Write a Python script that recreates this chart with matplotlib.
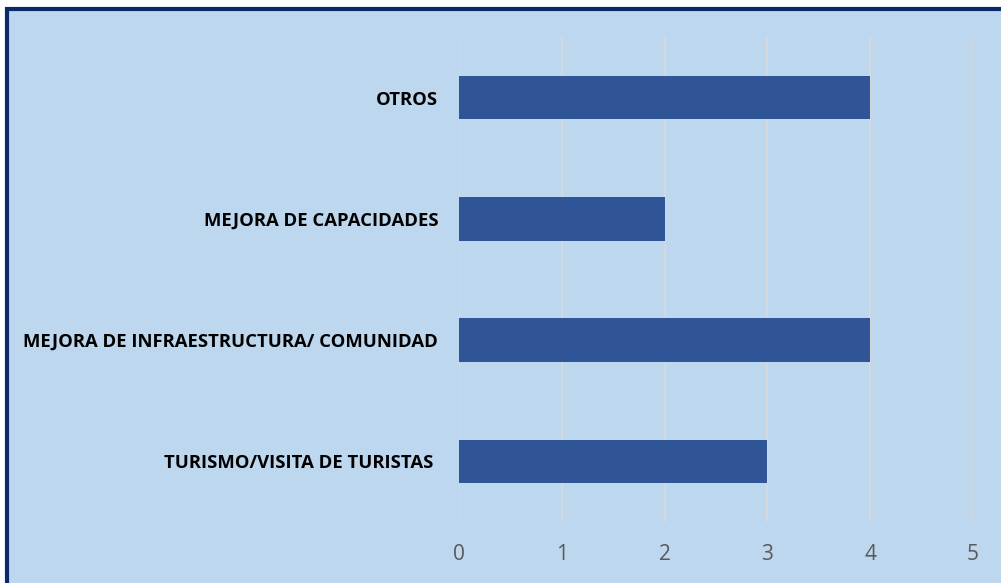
import matplotlib.pyplot as plt
from matplotlib.patches import Rectangle

categories = ['TURISMO/VISITA DE TURISTAS ', 'MEJORA DE INFRAESTRUCTURA/ COMUNIDAD',
              'MEJORA DE CAPACIDADES', 'OTROS']
values = [3, 4, 2, 4]
xticks = [0, 1, 2, 3, 4, 5]

plt.rcParams['font.family'] = ['Open Sans', 'DejaVu Sans']

fig = plt.figure(figsize=(10.01, 5.83), dpi=100, facecolor='white')

# chart background with dark border
bg = Rectangle((7 / 1001, -0.01), 1.0, 1 - 9 / 583 + 0.01, transform=fig.transFigure,
               facecolor='#BDD7EE', edgecolor='#0B2A6B', linewidth=3, zorder=-10)
fig.patches.append(bg)

ax = fig.add_axes([459 / 1001, 61 / 583, 514 / 1001, 485 / 583])
ax.set_zorder(1)
ax.set_facecolor('none')

ax.barh(range(len(categories)), values, height=0.36, color='#2F5597', zorder=3)

ax.set_xlim(0, 5)
ax.set_ylim(-0.5, len(categories) - 0.5)
ax.set_xticks(xticks)
ax.set_xticklabels([str(t) for t in xticks], fontsize=15, color='#595959')
ax.set_yticks(range(len(categories)))
ax.set_yticklabels(categories, fontsize=13.3, fontweight='bold', color='black')
ax.tick_params(axis='x', length=0, pad=16)
ax.tick_params(axis='y', length=0, pad=15)
ax.grid(axis='x', color='#D9D9D9', linewidth=1.2, zorder=1)
for s in ax.spines.values():
    s.set_visible(False)

fig.savefig('out.png', dpi=100, facecolor='white')
